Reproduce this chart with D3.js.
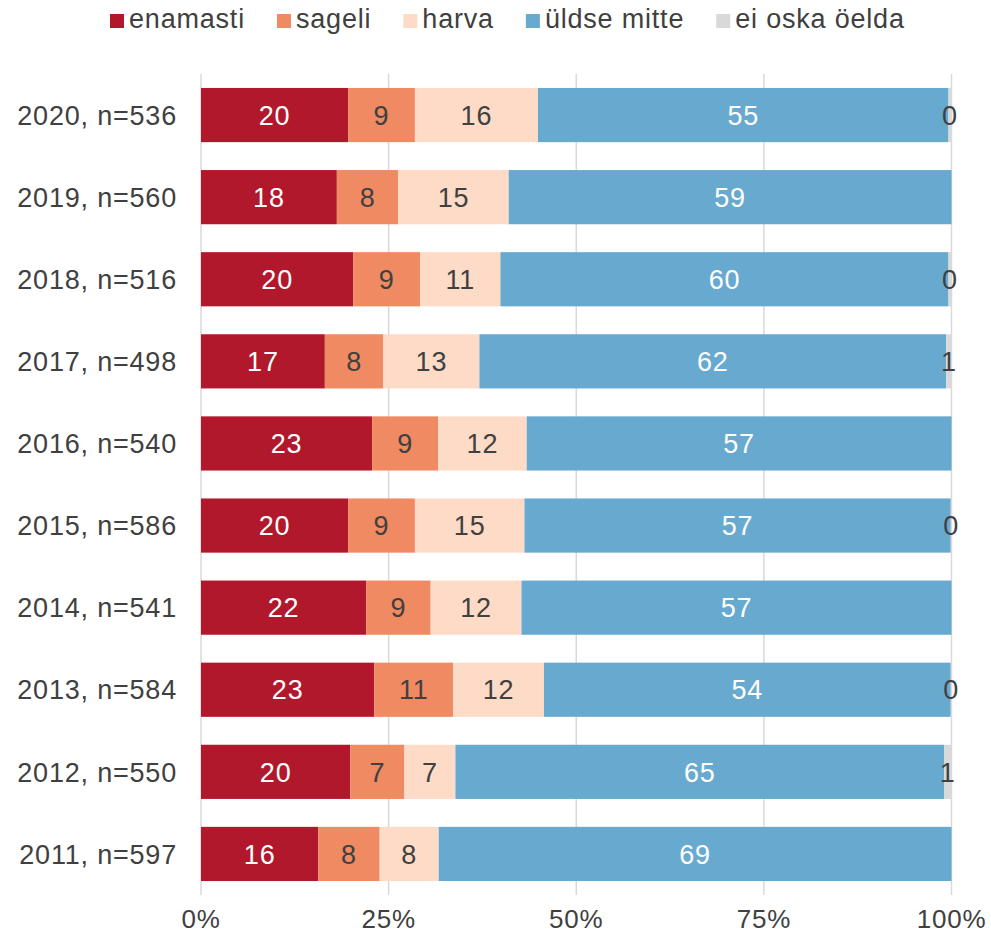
<!DOCTYPE html>
<html>
<head>
<meta charset="utf-8">
<script src="https://cdn.jsdelivr.net/npm/d3@7"></script>
<style>
  body { margin: 0; background: #fff; }
  text { font-family: "Liberation Sans", Arial, sans-serif; }
</style>
</head>
<body>
<script>
// categories (top to bottom)
const years = ["2020, n=536", "2019, n=560", "2018, n=516", "2017, n=498", "2016, n=540",
               "2015, n=586", "2014, n=541", "2013, n=584", "2012, n=550", "2011, n=597"];

// series values, % of respondents
const enamasti = [19.6, 18.1, 20.3, 16.5, 22.8, 19.6, 22.0, 23.1, 19.9, 15.7];
const sageli   = [8.9, 8.2, 8.9, 7.8, 8.8, 8.9, 8.6, 10.5, 7.2, 8.2];
const harva    = [16.4, 14.7, 10.7, 12.8, 11.8, 14.6, 12.1, 12.1, 6.8, 7.9];
const uldse    = [54.7, 59.0, 59.7, 62.2, 56.6, 56.8, 57.3, 54.2, 65.1, 68.6];
const eiOska   = [0.4, 0, 0.4, 0.7, 0, 0.1, 0, 0.1, 1.0, 0];

const seriesNames = ["enamasti", "sageli", "harva", "üldse mitte", "ei oska öelda"];
const seriesValues = [enamasti, sageli, harva, uldse, eiOska];
const colors = ["#b2182b", "#ef8a62", "#fddbc7", "#67a9cf", "#d9d9d9"];
const labelColors = ["#ffffff", "#404040", "#404040", "#ffffff", "#404040"];
const xTicks = [0, 0.25, 0.5, 0.75, 1];

const width = 991, height = 935;
const fontSize = 27;
const spacing = "0.8px";

// table for d3.stack
const table = years.map((y, i) => {
    const row = {year: y};
    seriesNames.forEach((s, j) => row[s] = seriesValues[j][i]);
    return row;
});

const stacked = d3.stack()
    .keys(seriesNames)
    .offset(d3.stackOffsetExpand)(table);

const svg = d3.select("body").append("svg")
    .attr("width", width)
    .attr("height", height);

const x = d3.scaleLinear().domain([0, 1]).range([201, 951.5]);
const y = d3.scaleBand().domain(years).range([74, 895])
    .paddingInner(0.34).paddingOuter(0.17);

// gridlines
svg.append("g")
    .selectAll("line")
    .data(xTicks)
    .join("line")
    .attr("x1", d => x(d)).attr("x2", d => x(d))
    .attr("y1", 74).attr("y2", 895)
    .attr("stroke", "#d9d9d9")
    .attr("stroke-width", 1.5);

// bars
const layer = svg.append("g")
    .selectAll("g")
    .data(stacked)
    .join("g")
    .attr("fill", (d, i) => colors[i]);

layer.selectAll("rect")
    .data(d => d)
    .join("rect")
    .attr("x", d => x(d[0]))
    .attr("width", d => x(d[1]) - x(d[0]))
    .attr("y", d => y(d.data.year))
    .attr("height", y.bandwidth());

// value labels
stacked.forEach((s, i) => {
    svg.append("g")
        .selectAll("text")
        .data(s.filter(d => d.data[s.key] > 0))
        .join("text")
        .attr("x", d => (x(d[0]) + x(d[1])) / 2)
        .attr("y", d => y(d.data.year) + y.bandwidth() / 2)
        .attr("dy", "0.36em")
        .attr("text-anchor", "middle")
        .attr("fill", labelColors[i])
        .style("font-size", fontSize + "px")
        .style("letter-spacing", spacing)
        .text(d => Math.round(d.data[s.key]));
});

// category labels
svg.append("g")
    .selectAll("text")
    .data(years)
    .join("text")
    .attr("x", 177)
    .attr("y", d => y(d) + y.bandwidth() / 2)
    .attr("dy", "0.36em")
    .attr("text-anchor", "end")
    .attr("fill", "#404040")
    .style("font-size", fontSize + "px")
    .style("letter-spacing", spacing)
    .text(d => d);

// x tick labels
svg.append("g")
    .selectAll("text")
    .data(xTicks)
    .join("text")
    .attr("x", d => x(d))
    .attr("y", 928)
    .attr("text-anchor", "middle")
    .attr("fill", "#404040")
    .style("font-size", "26px")
    .style("letter-spacing", spacing)
    .text(d3.format(".0%"));

// legend
const legend = svg.append("g");
let lx = 110;
seriesNames.forEach((name, i) => {
    legend.append("rect")
        .attr("x", lx).attr("y", 14)
        .attr("width", 14).attr("height", 14)
        .attr("fill", colors[i]);
    const t = legend.append("text")
        .attr("x", lx + 19)
        .attr("y", 28)
        .attr("fill", "#404040")
        .style("font-size", fontSize + "px")
        .style("letter-spacing", spacing)
        .text(name);
    lx += 19 + t.node().getComputedTextLength() + 32;
});
</script>
</body>
</html>
